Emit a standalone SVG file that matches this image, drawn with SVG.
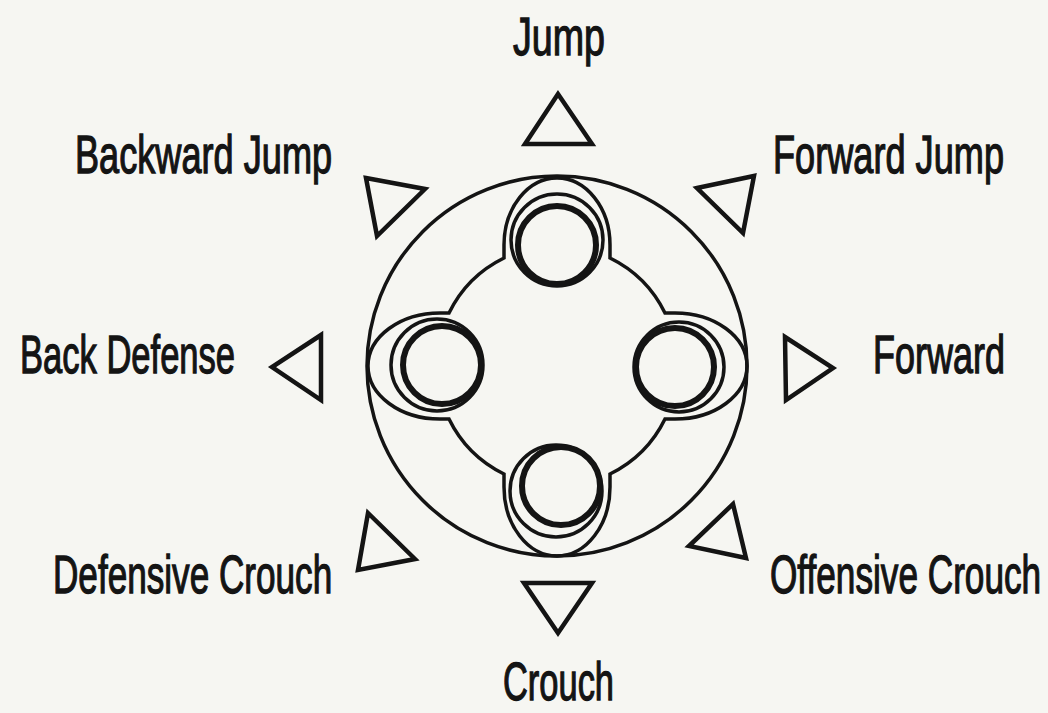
<svg xmlns="http://www.w3.org/2000/svg" width="1048" height="713" viewBox="0 0 1048 713">
  <style>
    .lbl { font-family: "Liberation Sans", Arial, sans-serif; font-size: 53px; fill: #141414; stroke: #141414; stroke-width: 1.3; }
    .tri { fill: none; stroke: #141414; stroke-width: 4.5; stroke-linejoin: miter; }
    .thin { fill: none; stroke: #141414; stroke-width: 3.5; }
    .btn { fill: none; stroke: #141414; stroke-width: 6; }
  </style>
  <rect width="1048" height="713" fill="#f6f6f2"/>

  <g id="pad">
    <circle cx="557" cy="366" r="190" class="thin" stroke-width="4"/>
    <path class="thin" d="M504,258 L504,245 A53,67 0 0 1 610,245 L610,258 A120,120 0 0 1 665,313 L675,313 A72,53 0 0 1 675,419 L665,419 A120,120 0 0 1 610,474 L610,487 A53,69 0 0 1 504,487 L504,474 A120,120 0 0 1 449,419 L440,419 A72,53 0 0 1 440,313 L449,313 A120,120 0 0 1 504,258 Z"/>
  </g>

  <g id="button-top">
    <circle cx="557" cy="240" r="46" class="thin"/>
    <circle cx="557" cy="245" r="39" class="btn"/>
  </g>
  <g id="button-right">
    <circle cx="679" cy="367" r="45" class="thin"/>
    <circle cx="675" cy="367" r="39" class="btn"/>
  </g>
  <g id="button-bottom">
    <circle cx="556" cy="491" r="46" class="thin"/>
    <circle cx="561" cy="486" r="39" class="btn"/>
  </g>
  <g id="button-left">
    <circle cx="437" cy="365" r="46" class="thin"/>
    <circle cx="442" cy="365" r="39" class="btn"/>
  </g>

  <g id="jump">
    <polygon class="tri" points="558,94 525,144 592,144"/>
    <text class="lbl" transform="translate(513,55) scale(0.71,1)">Jump</text>
  </g>
  <g id="forward-jump">
    <polygon class="tri" points="697,188 754,176 743,233"/>
    <text class="lbl" transform="translate(773,173) scale(0.682,1)">Forward Jump</text>
  </g>
  <g id="forward">
    <polygon class="tri" points="785,337 833,368 786,400"/>
    <text class="lbl" transform="translate(873,373) scale(0.679,1)">Forward</text>
  </g>
  <g id="offensive-crouch">
    <polygon class="tri" points="733,504 746,558 689,546"/>
    <text class="lbl" transform="translate(770,593) scale(0.664,1)">Offensive Crouch</text>
  </g>
  <g id="crouch">
    <polygon class="tri" points="524,583 592,583 558,633"/>
    <text class="lbl" transform="translate(503,700) scale(0.65,1)">Crouch</text>
  </g>
  <g id="defensive-crouch">
    <polygon class="tri" points="368,513 415,559 358,570"/>
    <text class="lbl" transform="translate(53,593) scale(0.663,1)">Defensive Crouch</text>
  </g>
  <g id="back-defense">
    <polygon class="tri" points="321,335 272,367 321,400"/>
    <text class="lbl" transform="translate(20,373) scale(0.652,1)">Back Defense</text>
  </g>
  <g id="backward-jump">
    <polygon class="tri" points="366,178 425,189 377,236"/>
    <text class="lbl" transform="translate(75,173) scale(0.682,1)">Backward Jump</text>
  </g>
</svg>
